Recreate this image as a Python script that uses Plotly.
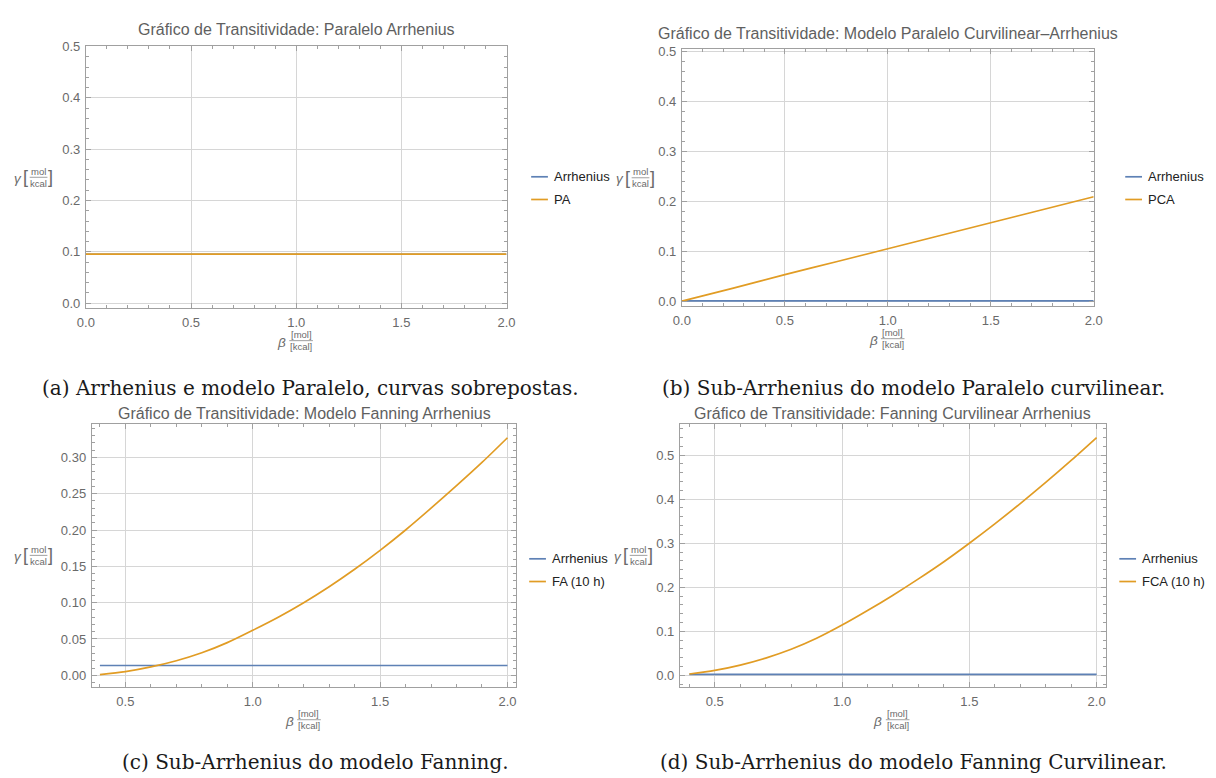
import plotly.graph_objects as go

W, H = 1216, 778

# ---------------- data ----------------
# (a) Paralelo Arrhenius
beta_a = [0.0, 2.0]
arrhenius_a = [0.0953, 0.0953]
pa_a = [0.0956, 0.0956]

# (b) Paralelo Curvilinear-Arrhenius
beta_b = [0.0, 0.25, 0.5, 0.75, 1.0, 1.25, 1.5, 1.75, 2.0]
arrhenius_b_x = [0.0, 2.0]
arrhenius_b = [0.0005, 0.0005]
pca_b = [0.0, 0.026, 0.053, 0.079, 0.105, 0.131, 0.157, 0.183, 0.209]

# (c) Fanning Arrhenius
beta_c = [0.4, 0.5, 0.6, 0.7, 0.8, 0.9, 1.0, 1.1, 1.2, 1.3, 1.4, 1.5, 1.6, 1.7, 1.8, 1.9, 2.0]
arrhenius_c_x = [0.4, 2.0]
arrhenius_c = [0.0135, 0.0135]
fa_c = [0.001, 0.005, 0.0115, 0.020, 0.031, 0.045, 0.062, 0.080, 0.100, 0.122,
        0.146, 0.172, 0.200, 0.230, 0.261, 0.293, 0.327]

# (d) Fanning Curvilinear Arrhenius
beta_d = [0.4, 0.5, 0.6, 0.7, 0.8, 0.9, 1.0, 1.1, 1.2, 1.3, 1.4, 1.5, 1.6, 1.7, 1.8, 1.9, 2.0]
arrhenius_d_x = [0.4, 2.0]
arrhenius_d = [0.002, 0.002]
fca_d = [0.003, 0.011, 0.023, 0.039, 0.059, 0.084, 0.114, 0.147, 0.182, 0.219,
         0.258, 0.300, 0.344, 0.390, 0.438, 0.488, 0.540]

# tick values
xticks_ab = [0.0, 0.5, 1.0, 1.5, 2.0]
xticks_cd = [0.5, 1.0, 1.5, 2.0]
yticks_ab = [0.0, 0.1, 0.2, 0.3, 0.4, 0.5]
yticks_c = [0.00, 0.05, 0.10, 0.15, 0.20, 0.25, 0.30]
yticks_d = [0.0, 0.1, 0.2, 0.3, 0.4, 0.5]

titles = [
    "Gráfico de Transitividade: Paralelo Arrhenius",
    "Gráfico de Transitividade: Modelo Paralelo Curvilinear\u2012Arrhenius",
    "Gráfico de Transitividade: Modelo Fanning Arrhenius",
    "Gráfico de Transitividade: Fanning Curvilinear Arrhenius",
]
legend_names = [
    ["Arrhenius", "PA"],
    ["Arrhenius", "PCA"],
    ["Arrhenius", "FA (10 h)"],
    ["Arrhenius", "FCA (10 h)"],
]
captions = [
    "(a) Arrhenius e modelo Paralelo, curvas sobrepostas.",
    "(b) Sub-Arrhenius do modelo Paralelo curvilinear.",
    "(c) Sub-Arrhenius do modelo Fanning.",
    "(d) Sub-Arrhenius do modelo Fanning Curvilinear.",
]

BLUE = "#5E81B5"
ORANGE = "#E19C24"
SANS = "Liberation Sans, Arial, sans-serif"
SERIF = "DejaVu Serif, serif"
GRAY_TXT = "#6a6a6a"
FRAME = "#a0a0a0"
GRID = "#d6d6d6"

# ---------------- layout geometry (pixels) ----------------
panels = [
    dict(x0=78, x1=505, y0=40, y1=305, xr=[0.0, 2.0], yr=[-0.0096, 0.5],
         xt=xticks_ab, yt=yticks_ab, yfmt="%.1f", ydt=0.02, title_y=23,
         leg_x=530, leg_y=[172, 195], cap_x=306, cap_y=386, ytitle_r=44),
    dict(x0=683, x1=1101, y0=43, y1=303, xr=[0.0, 2.0], yr=[-0.0099, 0.504],
         xt=xticks_ab, yt=yticks_ab, yfmt="%.1f", ydt=0.02, title_y=27,
         leg_x=1133, leg_y=[172, 195], cap_x=918, cap_y=386, ytitle_r=655),
    dict(x0=84, x1=515, y0=422, y1=689, xr=[0.368, 2.035], yr=[-0.0163, 0.3465],
         xt=xticks_cd, yt=yticks_c, yfmt="%.2f", ydt=0.01, title_y=412,
         leg_x=528, leg_y=[559, 582], cap_x=311, cap_y=765, ytitle_r=44),
    dict(x0=681, x1=1113, y0=422, y1=689, xr=[0.363, 2.035], yr=[-0.0269, 0.5717],
         xt=xticks_cd, yt=yticks_d, yfmt="%.1f", ydt=0.02, title_y=412,
         leg_x=1127, leg_y=[559, 582], cap_x=918, cap_y=765, ytitle_r=653),
]

series = [
    [(beta_a, arrhenius_a, BLUE), (beta_a, pa_a, ORANGE)],
    [(arrhenius_b_x, arrhenius_b, BLUE), (beta_b, pca_b, ORANGE)],
    [(arrhenius_c_x, arrhenius_c, BLUE), (beta_c, fa_c, ORANGE)],
    [(arrhenius_d_x, arrhenius_d, BLUE), (beta_d, fca_d, ORANGE)],
]


def px(x):
    return x / W


def py(y):
    return 1 - y / H


fig = go.Figure()
annotations = []
shapes = []
layout = dict(
    width=W, height=H, margin=dict(l=0, r=0, t=0, b=0),
    paper_bgcolor="white", plot_bgcolor="white", showlegend=False,
)


def text(x, y, s, size, color=GRAY_TXT, family=SANS, xanchor="center", yanchor="middle"):
    annotations.append(dict(
        x=px(x), y=py(y), xref="paper", yref="paper", text=s, showarrow=False,
        xanchor=xanchor, yanchor=yanchor, font=dict(size=size, color=color, family=family),
        borderpad=0, borderwidth=0,
    ))


def hline(x0, x1, y, color, width):
    shapes.append(dict(type="line", xref="paper", yref="paper",
                       x0=px(x0), x1=px(x1), y0=py(y), y1=py(y),
                       line=dict(color=color, width=width)))


def fraction(cx, ybar, num, den, size, half):
    text(cx, ybar - 0.5, num, size, yanchor="bottom")
    text(cx, ybar + 0.5, den, size, yanchor="top")
    hline(cx - half, cx + half, ybar, "#888888", 0.8)


for i, p in enumerate(panels):
    k = "" if i == 0 else str(i + 1)
    xa = "xaxis" + k
    ya = "yaxis" + k
    common = dict(
        showline=True, linecolor=FRAME, linewidth=1, mirror="allticks",
        ticks="inside", ticklen=5, tickwidth=1, tickcolor=FRAME,
        showgrid=True, gridcolor=GRID, gridwidth=1, zeroline=False,
        tickfont=dict(family=SANS, size=13, color=GRAY_TXT),
    )
    layout[xa] = dict(
        common, domain=[px(p["x0"]), px(p["x1"])], range=p["xr"],
        anchor="y" + k, tickvals=p["xt"], ticktext=["%.1f" % v for v in p["xt"]],
        minor=dict(ticks="inside", ticklen=3, tickcolor=FRAME, dtick=0.1, tick0=0, showgrid=False),
        ticklabelstandoff=2,
    )
    layout[ya] = dict(
        common, domain=[py(p["y1"]), py(p["y0"])], range=p["yr"],
        anchor="x" + k, tickvals=p["yt"], ticktext=[p["yfmt"] % v for v in p["yt"]],
        minor=dict(ticks="inside", ticklen=3, tickcolor=FRAME, dtick=p["ydt"], tick0=0, showgrid=False),
        ticklabelstandoff=2,
    )
    for (xs, ys, col) in series[i]:
        fig.add_trace(go.Scatter(x=xs, y=ys, mode="lines",
                                 line=dict(color=col, width=1.7, shape="spline", smoothing=0.8),
                                 xaxis="x" + k, yaxis="y" + k, hoverinfo="skip"))

    cx = (p["x0"] + p["x1"]) / 2
    # title
    text(cx, p["title_y"], titles[i], 16, color="#5f5f5f")
    # y title: γ [mol/kcal]
    yc = (p["y0"] + p["y1"]) / 2
    r = p["ytitle_r"]
    text(r - 35, yc + 1, "<i>γ</i>", 13.5)
    text(r - 27, yc, "[", 18)
    fraction(r - 14, yc, "mol", "kcal", 9.5, 9)
    text(r - 2, yc, "]", 18)
    # x title: β [mol]/[kcal]
    yb = p["y1"] + 33
    text(cx - 15, yb + 2, "<i>β</i>", 13.5)
    fraction(cx + 5, yb, "[mol]", "[kcal]", 9.5, 12)
    # legend
    for j, name in enumerate(legend_names[i]):
        col = BLUE if j == 0 else ORANGE
        ly = p["leg_y"][j]
        hline(p["leg_x"], p["leg_x"] + 17, ly, col, 1.7)
        text(p["leg_x"] + 23, ly, name, 13, color="#222222", xanchor="left")
    # caption
    text(p["cap_x"], p["cap_y"], captions[i], 20, color="#1a1a1a", family=SERIF)

layout["annotations"] = annotations
layout["shapes"] = shapes
fig.update_layout(**layout)
fig.write_html("out.html")
